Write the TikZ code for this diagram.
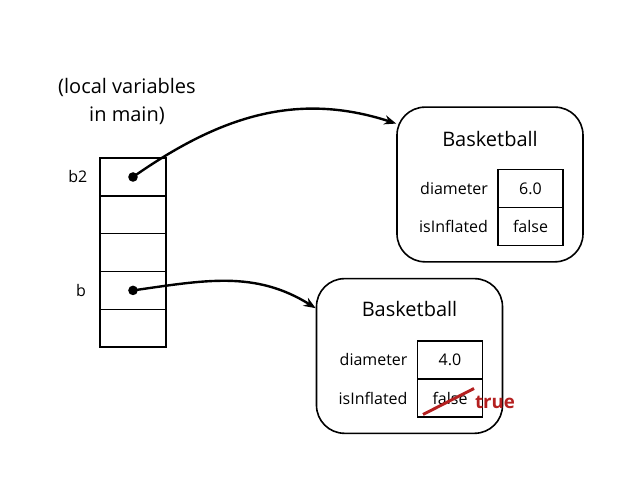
\documentclass[tikz,border=0pt]{standalone}
\usepackage{fontspec}
\setmainfont{Open Sans}
\usetikzlibrary{positioning,arrows.meta}
\definecolor{fixred}{RGB}{180,32,32}
\begin{document}
\begin{tikzpicture}[x=0.75pt, y=0.75pt,
  cell/.style = {draw, line width=1.1pt, minimum width=49.5pt, minimum height=28.35pt, inner sep=0pt, outer sep=0pt},
  field/.style = {cell, minimum width=48.75pt, minimum height=28.5pt, font=\fontsize{12}{14}\selectfont},
  object/.style = {draw, line width=1.2pt, rounded corners=21pt, minimum width=139.5pt, minimum height=116pt},
  lbl/.style = {font=\fontsize{12}{14}\selectfont},
  big/.style = {font=\fontsize{15}{21}\selectfont, align=center},
  ref/.style = {line width=1.8pt, -{Stealth[length=9pt, width=7pt]}}]
\useasboundingbox (0,0) rectangle (640,491);
\node[big] (title) at (127,390) {(local variables\\in main)};
\node[cell] (s1) at (133,314) {};
\node[cell] (s2) [below=0pt of s1] {};
\node[cell] (s3) [below=0pt of s2] {};
\node[cell] (s4) [below=0pt of s3] {};
\node[cell] (s5) [below=0pt of s4] {};
\node[lbl] (n1) [left=6pt of s1] {b2};
\node[lbl] (n2) [left=7pt of s4] {b};
\fill (s1.center) circle (3.6pt);
\fill (s4.center) circle (3.6pt);
% object that b2 refers to
\node[object] (top) at (490,306.5) {};
\node[big] (t1) at ([yshift=34pt]top.center) {Basketball};
\node[field] (tv1) at ([shift={(40.5,-4)}]top.center) {6.0};
\node[field] (tv2) [below=0pt of tv1] {false};
\node[lbl] (tl1) [left=4pt of tv1] {diameter};
\node[lbl] (tl2) [left=4pt of tv2] {isInflated};
% object that b refers to
\node[object] (bot) at (409.5,135) {};
\node[big] (t2) at ([yshift=35pt]bot.center) {Basketball};
\node[field] (bv1) at ([shift={(40.5,-4)}]bot.center) {4.0};
\node[field] (bv2) [below=0pt of bv1] {false};
\node[lbl] (bl1) [left=4pt of bv1] {diameter};
\node[lbl] (bl2) [left=4pt of bv2] {isInflated};
\draw[fixred, line width=2.2pt] ([shift={(-27,-16.5)}]bv2.center) -- ([shift={(24,9.5)}]bv2.center);
\node[font=\fontsize{14}{16}\selectfont\bfseries, text=fixred] (new) at ([shift={(45,-4.5)}]bv2.center) {true};
\draw[ref] (s1.center) to[out=35, in=162] (top.147);
\draw[ref] (s4.center) to[out=8, in=148] (bot.153);
\end{tikzpicture}
\end{document}
